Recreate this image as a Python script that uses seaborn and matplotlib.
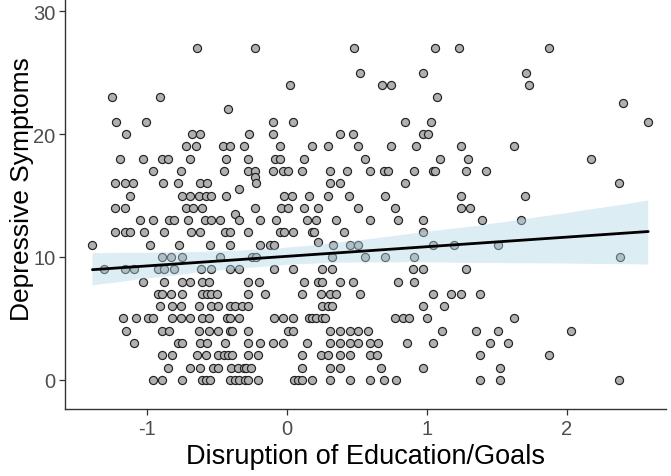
import numpy as np
import pandas as pd
import seaborn as sns
import matplotlib
matplotlib.use("Agg")
import matplotlib.pyplot as plt

# Depressive symptom levels (y) and the disruption scores (x) observed at each level
levels = [27, 25, 24, 23, 22.5, 22, 21, 20, 19, 18, 17, 16.5, 16, 15.5, 15, 14, 13.5,
          13, 12, 11.25, 11, 10, 9, 8, 7, 6, 5, 4, 3, 2, 1, 0]
x_rows = [
    [-0.64, -0.23, 0.48, 1.06, 1.23, 1.87],
    [0.52, 0.97, 1.71],
    [0.02, 0.68, 0.74, 1.73],
    [-1.25, -0.91, 1.07],
    [2.40],
    [-0.42],
    [-1.22, -1.01, -0.10, 0.04, 0.84, 1.03, 2.58],
    [-1.15, -0.68, -0.62, -0.27, -0.10, 0.38, 0.47, 0.97, 1.01],
    [-0.72, -0.65, -0.46, -0.41, -0.31, -0.05, 0.18, 0.29, 0.51, 0.74, 0.92, 1.24, 1.62],
    [-1.19, -1.03, -0.895, -0.85, -0.69, -0.436, -0.276, -0.086, -0.048, 0.12, 0.56, 1.09, 1.29, 2.17],
    [-0.955, -0.755, -0.45, -0.28, -0.23, -0.10, -0.03, 0.01, 0.11, 0.31, 0.43, 0.59, 0.69, 0.72,
     0.91, 1.04, 1.06, 1.28, 1.42],
    [-0.23],
    [-1.23, -1.16, -1.10, -0.886, -0.776, -0.62, -0.574, -0.22, 0.31, 0.38, 0.84, 2.37],
    [-0.345],
    [-1.12, -0.75, -0.69, -0.63, -0.58, -0.54, -0.436, -0.024, 0.038, 0.155, 0.29, 0.44, 0.70, 1.24, 1.70],
    [-1.23, -1.16, -0.72, -0.67, -0.61, -0.23, -0.04, 0.005, 0.12, 0.22, 0.51, 0.77, 1.24, 1.31],
    [-0.37],
    [-1.05, -0.955, -0.845, -0.81, -0.71, -0.586, -0.543, -0.48, -0.34, -0.19, -0.08, 0.145, 0.21,
     0.35, 0.59, 0.79, 0.97, 1.395, 1.67],
    [-1.23, -1.16, -1.12, -1.02, -0.88, -0.686, -0.62, -0.44, -0.41, -0.28, -0.05, -0.02, 0.04,
     0.18, 0.19, 0.41, 0.97],
    [0.22],
    [-1.39, -0.98, -0.77, -0.55, -0.41, -0.19, -0.12, -0.09, 0.33, 0.45, 0.51, 1.04, 1.19, 1.51],
    [-0.89, -0.83, -0.75, -0.48, -0.25, -0.22, 0.32, 0.56, 0.70, 0.905, 2.38],
    [-1.305, -1.16, -1.095, -0.92, -0.876, -0.81, -0.614, -0.54, -0.41, -0.34, -0.09, 0.04, 0.25,
     0.32, 0.90, 0.97, 1.28],
    [-1.03, -0.88, -0.75, -0.69, -0.61, -0.555, -0.28, -0.20, 0.12, 0.22, 0.25, 0.38, 0.47, 0.795, 0.905],
    [-0.92, -0.89, -0.83, -0.75, -0.61, -0.57, -0.54, -0.50, -0.28, -0.16, 0.105, 0.24, 0.31, 0.35,
     0.52, 1.04, 1.17, 1.24, 1.38],
    [-0.91, -0.82, -0.76, -0.63, -0.545, -0.49, -0.41, -0.37, -0.32, -0.28, 0.25, 0.29, 0.32, 0.97, 1.12],
    [-1.17, -1.08, -0.99, -0.96, -0.82, -0.76, -0.69, -0.61, -0.555, -0.43, -0.41, -0.34, -0.09,
     -0.03, 0.04, 0.16, 0.18, 0.21, 0.25, 0.27, 0.77, 0.83, 0.87, 1.00, 1.62],
    [-1.15, -0.895, -0.84, -0.63, -0.555, -0.49, -0.41, -0.39, -0.28, 0.01, 0.04, 0.31, 0.38, 0.45,
     0.51, 0.58, 1.105, 1.35, 1.51, 2.03],
    [-1.09, -0.78, -0.75, -0.62, -0.57, -0.44, -0.28, -0.19, -0.10, -0.03, 0.14, 0.31, 0.38, 0.45,
     0.51, 0.59, 0.65, 0.855, 1.04, 1.45, 1.58],
    [-0.89, -0.82, -0.645, -0.58, -0.49, -0.45, -0.42, -0.39, -0.28, -0.21, 0.11, 0.24, 0.29, 0.38,
     0.45, 0.59, 0.645, 1.38, 1.87],
    [-0.85, -0.69, -0.62, -0.53, -0.49, -0.40, -0.35, -0.31, -0.29, -0.26, 0.11, 0.31, 0.38, 0.67, 0.97, 1.52],
    [-0.96, -0.89, -0.75, -0.61, -0.58, -0.55, -0.41, -0.37, -0.34, -0.30, -0.28, -0.21, 0.05, 0.08,
     0.11, 0.18, 0.31, 0.45, 0.59, 0.69, 0.78, 1.38, 1.52, 2.37],
]
x_ticks = [-1, 0, 1, 2]
y_ticks = [0, 10, 20, 30]

disruption = [x for row in x_rows for x in row]
symptoms = [lv for lv, row in zip(levels, x_rows) for _ in row]
df = pd.DataFrame({"disruption": disruption, "symptoms": symptoms})

sns.set_theme(style="white")
plt.rcParams["font.family"] = ["Liberation Sans", "DejaVu Sans"]

fig = plt.figure(figsize=(6.71, 4.77), dpi=100)
# panel runs from y=410 px up to about 32 px above the top edge of the image
ax = fig.add_axes([65 / 671, 67 / 477, (666 - 65) / 671, 442 / 477])

sns.scatterplot(data=df, x="disruption", y="symptoms", ax=ax, s=34,
                color="#B0B0B0", edgecolor="#222222", linewidth=0.85, zorder=2)
sns.regplot(data=df, x="disruption", y="symptoms", ax=ax, scatter=False,
            color="#ADD8E6", ci=95, seed=1, n_boot=1000,
            line_kws={"color": "black", "linewidth": 2.0, "zorder": 4})
for coll in ax.collections[1:]:
    coll.set_facecolor("#ADD8E6")
    coll.set_edgecolor("none")
    coll.set_alpha(0.42)
    coll.set_zorder(3)

ax.set_xlim(-1.586, 2.707)
ax.set_ylim(-2.36, 33.58)
ax.set_xticks(x_ticks)
ax.set_yticks(y_ticks)
ax.set_xticklabels([str(t) for t in x_ticks])
ax.set_xlabel("Disruption of Education/Goals", fontsize=19.5, color="black", labelpad=4)
ax.set_ylabel("Depressive Symptoms", fontsize=19, color="black", labelpad=-1)
ax.tick_params(axis="both", labelsize=14.5, labelcolor="#4D4D4D", color="#333333",
               length=4, width=0.9, direction="out", bottom=True, left=True, pad=3)
for side in ["top", "right"]:
    ax.spines[side].set_visible(False)
for side in ["left", "bottom"]:
    ax.spines[side].set_color("#333333")
    ax.spines[side].set_linewidth(1.0)
ax.grid(False)

fig.savefig("out.png", dpi=100)
